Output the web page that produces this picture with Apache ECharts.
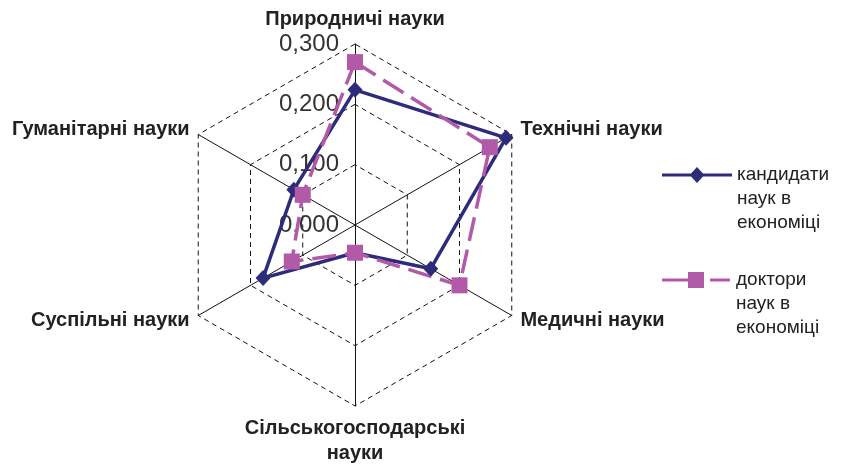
<!DOCTYPE html>
<html>
<head>
<meta charset="utf-8">
<script src="https://cdn.jsdelivr.net/npm/echarts@6/dist/echarts.min.js"></script>
<style>
html, body { margin: 0; padding: 0; background: #fff; }
#chart { width: 843px; height: 465px; }
</style>
</head>
<body>
<div id="chart"></div>
<script>
// order goes counterclockwise from the top, as the radar draws it
var categories = ['Природничі науки', 'Гуманітарні науки', 'Суспільні науки',
    'Сільськогосподарські науки', 'Медичні науки', 'Технічні науки'];
var candidates = [0.224, 0.117, 0.176, 0.046, 0.145, 0.289];
var doctors = [0.270, 0.100, 0.121, 0.046, 0.200, 0.258];
var seriesNames = ['кандидати наук в економіці', 'доктори наук в економіці'];
var tickValues = [0, 0.1, 0.2, 0.3];
var tickLabels = ['0,000', '0,100', '0,200', '0,300'];

var navy = '#2e2b7b';
var pink = '#b25aa8';

function tickText(v) {
    for (var i = 0; i < tickValues.length; i++) {
        if (Math.abs(v - tickValues[i]) < 1e-6) return tickLabels[i];
    }
    return '';
}

var indicators = categories.map(function (name, i) {
    var item = { name: name, min: 0, max: 0.3 };
    if (i === 0) {
        item.axisLabel = {
            show: true, showMinLabel: true, showMaxLabel: true,
            formatter: tickText, color: '#333', fontSize: 24,
            fontFamily: 'Liberation Sans', margin: 16
        };
    }
    return item;
});

function wrapName(name) {
    return name.length > 20 ? name.replace(' ', '\n') : name;
}

// two empty lines on top keep the first text line level with the icon
function legendName(n) {
    return '\n\n' + n.replace(' наук в ', '\nнаук в\n');
}

var legendText = {
    fontSize: 19, fontFamily: 'Liberation Sans', color: '#222', lineHeight: 24
};

var myChart = echarts.init(document.getElementById('chart'));
var option = {
    animation: false,
    backgroundColor: '#fff',
    legend: [
        {
            orient: 'vertical', left: 662, top: 115, padding: 0,
            itemWidth: 70, itemHeight: 16,
            data: [{ name: seriesNames[0], icon: 'path://M0,6.5H29L35,0L41,6.5H70V9.5H41L35,16L29,9.5H0Z' }],
            formatter: legendName,
            textStyle: legendText
        },
        {
            orient: 'vertical', left: 662, top: 220, padding: 0,
            itemWidth: 70, itemHeight: 16,
            data: [{ name: seriesNames[1], icon: 'path://M2,6.5H28V0H44V6.5H70V9.5H50V6.5H44V16H28V9.5H2Z' }],
            formatter: legendName,
            textStyle: legendText
        }
    ],
    radar: {
        center: [355, 225],
        radius: 181,
        splitNumber: 3,
        shape: 'polygon',
        nameGap: 10,
        indicator: indicators,
        axisName: {
            color: '#222',
            fontSize: 20,
            fontWeight: 'bold',
            fontFamily: 'Liberation Sans',
            lineHeight: 25,
            formatter: wrapName
        },
        axisLine: { lineStyle: { color: '#111', width: 1 } },
        splitLine: { lineStyle: { color: '#111', width: 1, type: [5, 4] } },
        splitArea: { show: false },
        axisLabel: { show: false },
        axisTick: { show: false }
    },
    series: [
        {
            type: 'radar',
            data: [
                {
                    name: seriesNames[0],
                    value: candidates,
                    symbol: 'diamond',
                    symbolSize: [15, 16],
                    itemStyle: { color: navy },
                    lineStyle: { color: navy, width: 3.5 }
                },
                {
                    name: seriesNames[1],
                    value: doctors,
                    symbol: 'rect',
                    symbolSize: 16,
                    itemStyle: { color: pink },
                    lineStyle: { color: pink, width: 3.5, type: [24, 9] }
                }
            ]
        }
    ]
};

option && myChart.setOption(option);
</script>
</body>
</html>
